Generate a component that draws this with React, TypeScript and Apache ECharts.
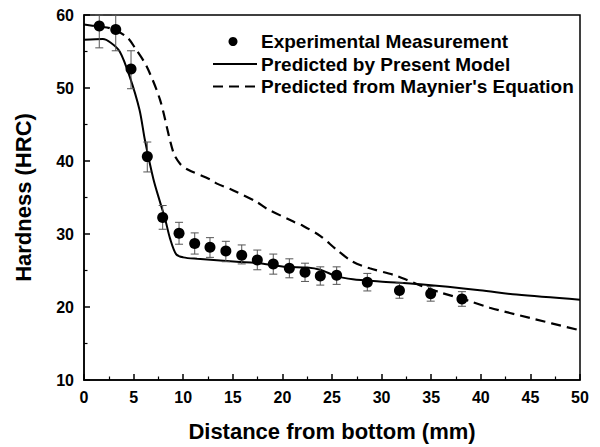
import React, { useEffect, useRef } from "react";
import * as echarts from "echarts";

// Experimental measurement points
const expX = [1.54, 3.2, 4.74, 6.38, 7.93, 9.58, 11.16, 12.7, 14.3, 15.9, 17.47, 19.08, 20.7, 22.28, 23.82, 25.47, 28.56, 31.8, 34.95, 38.1];
const expY = [58.5, 58.0, 52.6, 40.6, 32.25, 30.1, 28.7, 28.2, 27.66, 27.1, 26.44, 25.9, 25.3, 24.76, 24.26, 24.35, 23.4, 22.27, 21.8, 21.1];
const expLow = [55.5, 55.1, 49.9, 38.5, 30.65, 28.6, 27.25, 26.8, 26.2, 25.9, 25.1, 24.5, 24.0, 23.5, 23.0, 23.1, 22.2, 21.2, 20.8, 20.1];
const expHigh = [60, 60, 55.1, 42.6, 33.9, 31.6, 30.15, 29.5, 29.0, 28.5, 27.8, 27.25, 26.6, 26.0, 25.5, 25.5, 24.6, 23.3, 22.8, 22.1];

// Predicted by present model
const modelX = [0, 1.9, 2.7, 3.6, 4.6, 5.6, 6.15, 7.0, 7.66, 8.17, 8.67, 9.3, 10.0, 11.4, 15.4, 17.7, 20.4, 22.5, 23.8, 25.5, 27.1, 29.8, 33.9, 39.9, 43.6, 50];
const modelY = [56.6, 56.7, 56.2, 55.0, 51.6, 47.0, 42.8, 37.5, 34.4, 32.1, 29.4, 27.2, 26.8, 26.6, 26.2, 26.0, 25.5, 25.4, 25.1, 24.2, 23.8, 23.5, 23.1, 22.3, 21.7, 21.0];

// Predicted from Maynier's equation
const maynierX = [0, 1.5, 2.6, 4.3, 5.14, 6.3, 7.66, 9.0, 9.7, 10.5, 12.7, 13.4, 15, 17.4, 18.4, 21.1, 22.1, 23.8, 25.5, 27.1, 28.8, 31.2, 32.4, 33.9, 35.9, 38.9, 40.9, 44.96, 50];
const maynierY = [58.7, 58.4, 58.2, 57.0, 55.5, 53, 48.4, 41.2, 39.6, 38.8, 37.5, 36.9, 36.0, 34.4, 33.5, 31.7, 31.1, 29.75, 27.8, 26.2, 25.3, 24.4, 23.8, 22.95, 22.0, 20.8, 19.9, 18.5, 16.8];

const xTicks = { min: 0, max: 50, interval: 5 };
const yTicks = { min: 10, max: 60, interval: 10 };

const legendLabels = ["Experimental Measurement", "Predicted by Present Model", "Predicted from Maynier's Equation"];
const xTitle = "Distance from bottom (mm)";
const yTitle = "Hardness (HRC)";

const FONT = '"Liberation Sans", Arial, sans-serif';

export default function App() {
  const ref = useRef<HTMLDivElement>(null);
  useEffect(() => {
    document.body.style.margin = "0";
    if (!ref.current) return;
    const chart = echarts.init(ref.current, null, { renderer: "svg" });
    const axisCommon = {
      axisLine: { show: true, onZero: false, lineStyle: { color: "#000", width: 1.5 } },
      axisTick: { show: true, inside: true, length: 6, lineStyle: { color: "#000", width: 1.5 } },
      minorTick: { show: true, splitNumber: 2, length: 3.5, lineStyle: { color: "#000", width: 1.2 } },
      splitLine: { show: false },
      minorSplitLine: { show: false },
      axisLabel: { color: "#000", fontSize: 16, fontWeight: "bold", fontFamily: FONT },
      nameTextStyle: { color: "#000", fontSize: 22, fontWeight: "bold", fontFamily: FONT },
    };
    const legendY = [41.5, 64, 86.5];
    chart.setOption({
      animation: false,
      grid: { left: 84, right: 20, top: 15, bottom: 65, show: true, borderColor: "#000", borderWidth: 1.5, backgroundColor: "transparent" },
      xAxis: {
        type: "value",
        ...xTicks,
        name: xTitle,
        nameLocation: "middle",
        nameGap: 40,
        ...axisCommon,
        axisLabel: { ...axisCommon.axisLabel, margin: 9 },
      },
      yAxis: {
        type: "value",
        ...yTicks,
        name: yTitle,
        nameLocation: "middle",
        nameGap: 50,
        ...axisCommon,
        axisLabel: { ...axisCommon.axisLabel, margin: 10 },
      },
      series: [
        {
          name: legendLabels[2],
          type: "line",
          data: maynierX.map((x, i) => [x, maynierY[i]]),
          showSymbol: false,
          symbol: "none",
          smooth: 0.3,
          lineStyle: { color: "#000", width: 2.2, type: [10, 6] },
          z: 2,
        },
        {
          name: legendLabels[1],
          type: "line",
          data: modelX.map((x, i) => [x, modelY[i]]),
          showSymbol: false,
          symbol: "none",
          smooth: 0.3,
          lineStyle: { color: "#000", width: 2 },
          z: 3,
        },
        {
          name: "err",
          type: "custom",
          data: expX.map((x, i) => [x, expLow[i], expHigh[i]]),
          encode: { x: 0, y: [1, 2] },
          renderItem: (params: any, api: any) => {
            const x = api.value(0);
            const pLo = api.coord([x, api.value(1)]);
            const pHi = api.coord([x, api.value(2)]);
            const w = 4;
            const style = { stroke: "#555", lineWidth: 1 };
            return {
              type: "group",
              children: [
                { type: "line", shape: { x1: pLo[0], y1: pLo[1], x2: pHi[0], y2: pHi[1] }, style },
                { type: "line", shape: { x1: pLo[0] - w, y1: pLo[1], x2: pLo[0] + w, y2: pLo[1] }, style },
                { type: "line", shape: { x1: pHi[0] - w, y1: pHi[1], x2: pHi[0] + w, y2: pHi[1] }, style },
              ],
            };
          },
          z: 4,
        },
        {
          name: legendLabels[0],
          type: "scatter",
          data: expX.map((x, i) => [x, expY[i]]),
          symbol: "circle",
          symbolSize: 11,
          itemStyle: { color: "#000", opacity: 1 },
          z: 5,
        },
      ],
      graphic: [
        { type: "circle", shape: { cx: 233, cy: legendY[0], r: 4.5 }, style: { fill: "#000" } },
        { type: "line", shape: { x1: 213, y1: legendY[1], x2: 257, y2: legendY[1] }, style: { stroke: "#000", lineWidth: 2 } },
        { type: "line", shape: { x1: 213, y1: legendY[2], x2: 257, y2: legendY[2] }, style: { stroke: "#000", lineWidth: 2.2, lineDash: [10, 6] } },
        ...legendLabels.map((t, i) => ({
          type: "text",
          x: 261,
          y: legendY[i],
          style: { text: t, fill: "#000", font: `bold 19px ${FONT}`, verticalAlign: "middle", align: "left" },
        })),
      ],
    });
    return () => chart.dispose();
  }, []);
  return <div ref={ref} style={{ width: 600, height: 447 }} />;
}
